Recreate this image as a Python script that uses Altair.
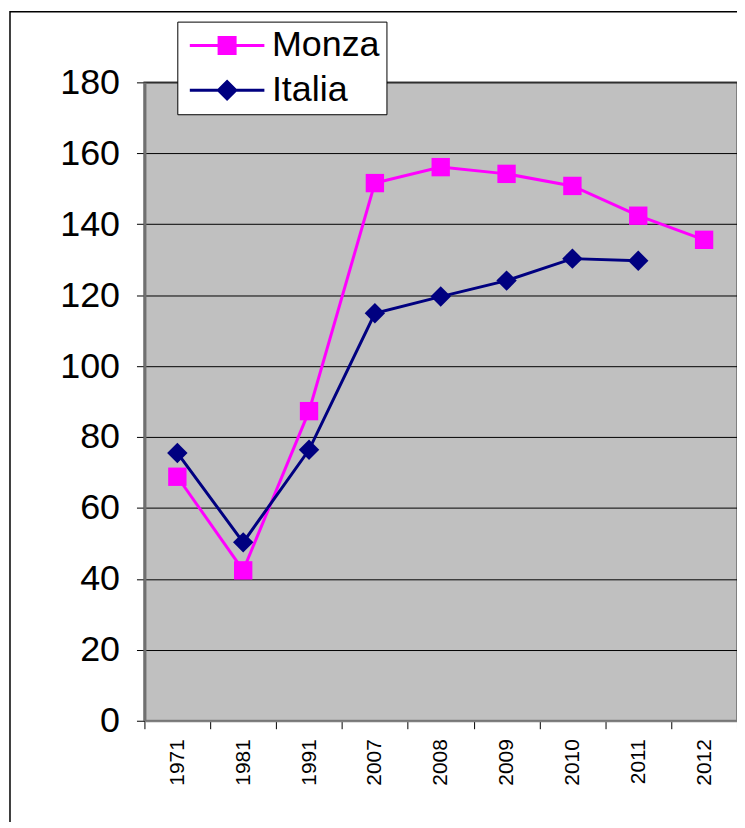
import altair as alt
import pandas as pd

years = ["1971", "1981", "1991", "2007", "2008", "2009", "2010", "2011", "2012"]
monza = [68.8, 42.4, 87.3, 151.6, 156.1, 154.2, 150.8, 142.4, 135.6]
italia = [75.5, 50.3, 76.4, 114.9, 119.6, 124.1, 130.3, 129.7, None]
series_names = ["Monza", "Italia"]
series_colors = ["#FF00FF", "#000080"]

rows = []
for y, v in zip(years, monza):
    rows.append({"anno": y, "valore": v, "serie": "Monza"})
for y, v in zip(years, italia):
    if v is not None:
        rows.append({"anno": y, "valore": v, "serie": "Italia"})
df = pd.DataFrame(rows)

FONT = "Liberation Sans"

x_enc = alt.X(
    "anno:N",
    sort=years,
    scale=alt.Scale(type="band", domain=years, paddingInner=0, paddingOuter=0),
    axis=alt.Axis(
        title=None, labelAngle=-90, labelFontSize=21, labelFont=FONT, labelColor="black",
        tickBand="extent", ticks=True, tickSize=8, tickColor="black", tickWidth=1,
        labelPadding=10, domainColor="#808080", domainWidth=2, grid=False,
    ),
)
y_enc = alt.Y(
    "valore:Q",
    scale=alt.Scale(domain=[0, 180], nice=False, zero=True),
    axis=alt.Axis(
        title=None, values=list(range(0, 181, 20)), labelFontSize=36, labelFont=FONT,
        labelColor="black", tickSize=8, tickColor="black", tickWidth=1, labelPadding=17,
        domainColor="#707070", domainWidth=3, grid=True, gridColor="black", gridWidth=1,
    ),
)

base = alt.Chart(df).encode(x=x_enc, y=y_enc)

line_m = base.transform_filter("datum.serie == 'Monza'").mark_line(color=series_colors[0], strokeWidth=3)
line_i = base.transform_filter("datum.serie == 'Italia'").mark_line(color=series_colors[1], strokeWidth=3)
pt_m = base.transform_filter("datum.serie == 'Monza'").mark_point(
    shape="square", filled=True, opacity=1, color=series_colors[0], size=340)
pt_i = base.transform_filter("datum.serie == 'Italia'").mark_point(
    shape="diamond", filled=True, opacity=1, color=series_colors[1], size=420)

# legend symbol: line segment + marker (r = 18 px per unit)
sq_path = "M-2.08,-0.083H2.08V0.083H-2.08Z M-0.53,-0.53H0.53V0.53H-0.53Z"
di_path = "M-2.08,-0.083H2.08V0.083H-2.08Z M-0.6,0L0,-0.6L0.6,0L0,0.6Z"

legend_layer = alt.Chart(df).transform_filter("false").mark_point(filled=True, opacity=1).encode(
    color=alt.Color(
        "serie:N",
        scale=alt.Scale(domain=series_names, range=series_colors),
        sort=None,
        legend=alt.Legend(
            orient="none", legendX=33, legendY=-61, title=None,
            fillColor="white", strokeColor="black", padding=6,
            labelFontSize=36, labelFont=FONT, labelColor="black",
            symbolSize=1296, symbolStrokeWidth=0, symbolOpacity=1,
            symbolOffset=26, labelOffset=27, rowPadding=9, cornerRadius=0,
        ),
    ),
    shape=alt.Shape(
        "serie:N",
        scale=alt.Scale(domain=series_names, range=[sq_path, di_path]),
        sort=None,
    ),
)

border = alt.Chart(alt.Data(values=[{"a": 1}])).mark_rect(
    fill="transparent", fillOpacity=0, stroke="black", strokeWidth=1.5, clip=False
).encode(
    x=alt.value(-135), x2=alt.value(700), y=alt.value(-71), y2=alt.value(900)
)

chart = alt.layer(border, line_m, pt_m, line_i, pt_i, legend_layer).properties(
    width=595, height=641,
    autosize=alt.AutoSizeParams(type="none"),
    padding={"left": 137, "top": 73, "right": 0, "bottom": 100},
    view=alt.ViewBackground(fill="#C0C0C0", stroke="#808080", strokeWidth=2),
)

chart.save("out.html", embed_options={"renderer": "svg", "actions": False})
